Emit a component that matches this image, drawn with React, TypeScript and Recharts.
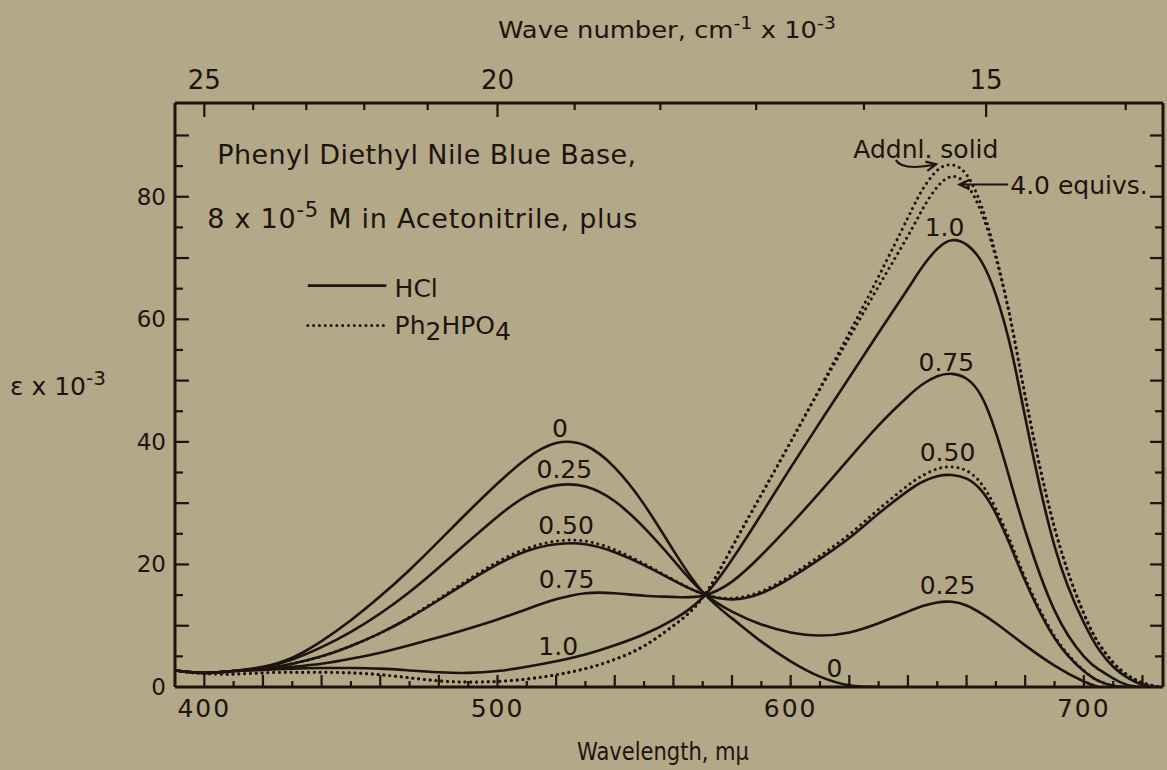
import React from 'react';
import { ComposedChart, Line, XAxis, YAxis, ReferenceDot, ReferenceLine } from 'recharts';

const INK = '#1d140f';
const PAPER = '#b3a887';
const FONT = '"DejaVu Sans", sans-serif';

// wavelength grid (m\u03bc)
const wavelengths = [390,400,410,420,430,440,450,460,470,480,490,500,510,520,530,540,550,560,570,580,590,600,610,620,630,640,645,650,655,660,665,670,675,680,690,700,705,710,715,720,725,727];

// HCl series (equivalents): epsilon x 10^-3
const hcl0 = [2.7,2.3,2.6,3.3,4.8,7.5,10.9,14.8,19.1,23.8,28.6,33.2,37.3,39.8,39.4,35.8,29.8,22.3,15.5,11.2,7.4,4.2,1.7,0.3,0,null,null,null,null,null,null,null,null,null,null,null,null,null,null,null,null,null];
const hcl025 = [2.7,2.3,2.6,3.2,4.5,6.5,9.0,12.0,15.5,19.5,23.7,27.8,31.2,32.9,32.7,30.3,26.0,20.7,15.5,12.3,10.2,8.9,8.4,8.9,10.4,12.3,13.2,13.8,13.9,13.3,12.0,10.4,8.6,6.8,3.5,0.9,0,null,null,null,null,null];
const hcl050 = [2.7,2.3,2.6,3.0,3.8,5.0,6.7,8.8,11.3,14.2,17.2,20.0,22.2,23.3,23.3,22.0,19.9,17.4,15.2,14.3,15.3,17.8,20.9,24.3,28.3,32.0,33.5,34.4,34.6,34.0,32.1,28.3,23.0,17.3,8.0,2.6,1.0,0.2,0,null,null,null];
const hcl075 = [2.7,2.3,2.6,2.9,3.3,3.8,4.6,5.6,6.8,8.1,9.5,11.0,12.7,14.3,15.3,15.3,14.9,14.7,14.9,17.2,21.5,26.5,31.8,37.3,42.7,47.4,49.4,50.7,51.1,50.3,47.5,41.5,33.5,25.5,12.5,5.0,2.9,1.4,0.3,0,null,null];
const hcl100 = [2.7,2.3,2.6,2.8,3.0,3.1,3.1,3.0,2.7,2.4,2.3,2.6,3.3,4.2,5.3,6.8,8.6,11.0,14.6,20.8,28.2,35.8,43.2,50.5,57.8,65.0,68.6,71.5,72.9,72.2,69.5,64.0,55.5,44.0,23.0,10.5,6.2,3.3,1.5,0.4,0,null];

// Ph2HPO4 series
const ph050 = [2.7,2.3,2.6,3.0,3.8,5.0,6.7,8.8,11.4,14.4,17.5,20.4,22.6,23.8,23.8,22.4,20.1,17.5,15.2,14.5,15.6,18.2,21.4,24.9,29.0,32.9,34.5,35.6,35.9,35.3,33.2,29.1,23.7,17.8,8.3,2.7,1.0,0.2,0,null,null,null];
const ph400 = [2.6,2.2,2.1,2.3,2.4,2.4,2.3,2.0,1.5,1.0,0.8,0.9,1.3,2.0,3.0,4.5,6.7,10.0,14.6,22.8,31.4,40.0,48.6,57.0,65.4,73.6,78.0,81.6,83.3,82.0,77.5,70.0,60.0,47.5,26.0,12.0,7.2,4.0,1.9,0.7,0.1,0];
const phAddnl = [2.6,2.2,2.1,2.3,2.4,2.4,2.3,2.0,1.5,1.0,0.8,0.9,1.3,2.0,3.0,4.5,6.7,10.0,14.6,22.8,31.4,40.0,48.8,57.8,67.0,76.6,81.2,84.3,85.2,83.6,78.6,70.5,60.0,47.5,26.0,12.0,7.2,4.0,1.9,0.7,0.1,0];

// axes
const bottomTicks = [400,410,420,430,440,450,460,470,480,490,500,510,520,530,540,550,560,570,580,590,600,610,620,630,640,650,660,670,680,690,700,710,720];
const bottomLabels = [400, 500, 600, 700];
const epsTicks = [0,5,10,15,20,25,30,35,40,45,50,55,60,65,70,75,80,85,90];
const epsLabels = [0, 20, 40, 60, 80];
const waveNumberTicks = [25,24,23,22,21,20,19,18,17,16,15,14];
const waveNumberLabels = [25, 20, 15];

// curve labels
const curveLabelText = ['0','0.25','0.50','0.75','1.0','1.0','0.75','0.50','0.25','0'];
const curveLabelNm = [521.3,522.8,523.4,523.6,520.7,652.5,653.1,653.5,653.5,614.9];
const curveLabelEps = [42.2,35.6,26.5,17.6,6.7,75.0,53.1,38.4,16.7,3.1];

const data = wavelengths.map((nm, i) => ({
  nm,
  hcl0: hcl0[i], hcl025: hcl025[i], hcl050: hcl050[i], hcl075: hcl075[i], hcl100: hcl100[i],
  ph050: ph050[i], ph400: ph400[i], phAddnl: phAddnl[i],
}));

const topTickNm = waveNumberTicks.map((k) => 10000 / k);

const BottomTick = (p: any) => {
  const { x, y, payload } = p;
  const v = Math.round(payload.value);
  const major = v % 20 === 0;
  return (
    <g>
      <line x1={x} y1={y} x2={x} y2={y - (major ? 12 : 6)} stroke={INK} strokeWidth={2.2} />
      {bottomLabels.includes(v) && (
        <text x={x} y={y + 30} textAnchor="middle" fontSize={25} letterSpacing={2} fill={INK} fontFamily={FONT}>{v}</text>
      )}
    </g>
  );
};

const TopTick = (p: any) => {
  const { x, y, payload } = p;
  const k = Math.round(10000 / payload.value);
  const major = waveNumberLabels.includes(k);
  return (
    <g>
      <line x1={x} y1={y} x2={x} y2={y + (major ? 14 : 7)} stroke={INK} strokeWidth={2.2} />
      {major && (
        <text x={x} y={y - 14} textAnchor="middle" fontSize={26} fill={INK} fontFamily={FONT}>{k}</text>
      )}
    </g>
  );
};

const LeftTick = (p: any) => {
  const { x, y, payload } = p;
  const v = Math.round(payload.value);
  const long = v % 10 === 0;
  return (
    <g>
      {v > 0 && <line x1={x} y1={y} x2={x + (long ? 14 : 8)} y2={y} stroke={INK} strokeWidth={2.2} />}
      {epsLabels.includes(v) && (
        <text x={x - 9} y={y + 8} textAnchor="end" fontSize={23} fill={INK} fontFamily={FONT}>{v}</text>
      )}
    </g>
  );
};

const RightTick = (p: any) => {
  const { x, y, payload } = p;
  const v = Math.round(payload.value);
  const long = v % 10 === 0;
  if (v === 0) return <g />;
  return <line x1={x} y1={y} x2={x - (long ? 13 : 8)} y2={y} stroke={INK} strokeWidth={2.2} />;
};

const center = (vb: any) => ({ cx: vb.x + (vb.width || 0) / 2, cy: vb.y + (vb.height || 0) / 2 });

const CurveLabel = (text: string) => (p: any) => {
  const { cx, cy } = center(p.viewBox);
  return (
    <text x={cx} y={cy + 9} textAnchor="middle" fontSize={25} fill={INK} fontFamily={FONT}>{text}</text>
  );
};

const Title1 = (p: any) => {
  const { cx, cy } = center(p.viewBox);
  return (
    <text x={cx} y={cy + 10} fontSize={27} fill={INK} fontFamily={FONT} textLength={419} lengthAdjust="spacing">
      Phenyl Diethyl Nile Blue Base,
    </text>
  );
};

const Title2 = (p: any) => {
  const { cx, cy } = center(p.viewBox);
  return (
    <text x={cx} y={cy + 10} fontSize={27} fill={INK} fontFamily={FONT} textLength={430} lengthAdjust="spacing">
      <tspan>8 x 10</tspan>
      <tspan dy={-11} fontSize={21}>-5</tspan>
      <tspan dy={11}> M in Acetonitrile, plus</tspan>
    </text>
  );
};

const LegendHCl = (p: any) => {
  const { cx, cy } = center(p.viewBox);
  return <text x={cx} y={cy + 9} fontSize={25} fill={INK} fontFamily={FONT}>HCl</text>;
};

const LegendPh = (p: any) => {
  const { cx, cy } = center(p.viewBox);
  return (
    <text x={cx} y={cy + 7} fontSize={25} fill={INK} fontFamily={FONT}>
      <tspan>Ph</tspan>
      <tspan dy={6}>2</tspan>
      <tspan dy={-6}>HPO</tspan>
      <tspan dy={6}>4</tspan>
    </text>
  );
};

const AddnlText = (p: any) => {
  const { cx, cy } = center(p.viewBox);
  return <text x={cx} y={cy + 9} textAnchor="middle" fontSize={25} fill={INK} fontFamily={FONT}>Addnl. solid</text>;
};

const EquivText = (p: any) => {
  const { cx, cy } = center(p.viewBox);
  return <text x={cx} y={cy + 9} fontSize={25} fill={INK} fontFamily={FONT}>4.0 equivs.</text>;
};

const head = (x2: number, y2: number, ang: number) => {
  const h = 11, w = 0.45;
  const ax = x2 - h * Math.cos(ang - w), ay = y2 - h * Math.sin(ang - w);
  const bx = x2 - h * Math.cos(ang + w), by = y2 - h * Math.sin(ang + w);
  return `${ax},${ay} ${x2},${y2} ${bx},${by}`;
};

const StraightArrow = (p: any) => {
  const { x1, y1, x2, y2 } = p;
  const ang = Math.atan2(y2 - y1, x2 - x1);
  return (
    <g>
      <line x1={x1} y1={y1} x2={x2} y2={y2} stroke={INK} strokeWidth={2.2} />
      <polyline points={head(x2, y2, ang)} fill="none" stroke={INK} strokeWidth={2.2} />
    </g>
  );
};

const CurvedArrow = (p: any) => {
  const { x1, y1, x2, y2 } = p;
  const qx = x1 + 6, qy = Math.max(y1, y2) + 7;
  const ang = Math.atan2(y2 - qy, x2 - qx);
  return (
    <g>
      <path d={`M${x1},${y1} Q${qx},${qy} ${x2},${y2}`} fill="none" stroke={INK} strokeWidth={2.2} />
      <polyline points={head(x2, y2, ang)} fill="none" stroke={INK} strokeWidth={2.2} />
    </g>
  );
};

const SolidSeg = (p: any) => <line x1={p.x1} y1={p.y1} x2={p.x2} y2={p.y2} stroke={INK} strokeWidth={2.6} />;
const DotSeg = (p: any) => (
  <line x1={p.x1} y1={p.y1} x2={p.x2} y2={p.y2} stroke={INK} strokeWidth={3} strokeDasharray="0.01 5.8" strokeLinecap="round" />
);

const TopTitle = (p: any) => {
  const vb = p.viewBox;
  return (
    <text x={vb.x + 323} y={vb.y - 25} fontSize={23} fill={INK} fontFamily={FONT} textLength={338} lengthAdjust="spacingAndGlyphs">
      <tspan>Wave number, cm</tspan>
      <tspan dy={-9} fontSize={17}>-1</tspan>
      <tspan dy={9}> x 10</tspan>
      <tspan dy={-9} fontSize={17}>-3</tspan>
    </text>
  );
};

const BottomTitle = (p: any) => {
  const vb = p.viewBox;
  return (
    <text x={vb.x + 402} y={vb.y + 73} fontSize={25} fill={INK} fontFamily={FONT} textLength={172} lengthAdjust="spacingAndGlyphs">
      {'Wavelength, m\u03bc'}
    </text>
  );
};

const LeftTitle = (p: any) => {
  const vb = p.viewBox;
  return (
    <text x={10} y={vb.y + 292} fontSize={25} fill={INK} fontFamily={FONT}>
      <tspan>{'\u03b5'} x 10</tspan>
      <tspan dy={-10} fontSize={20}>-3</tspan>
    </text>
  );
};

const solid = { stroke: INK, strokeWidth: 2.6, dot: false, activeDot: false, isAnimationActive: false, type: 'natural' as const, connectNulls: false };
const dotted = { ...solid, strokeWidth: 3, strokeDasharray: '0.01 5.8', strokeLinecap: 'round' as const };

export default function App() {
  return (
    <div style={{ position: 'fixed', left: 0, top: 0, width: 1167, height: 770, background: PAPER, overflow: 'hidden' }}>
      <ComposedChart width={1167} height={770} data={data} margin={{ top: 63, right: 0, bottom: 43, left: 115 }}>
        <XAxis dataKey="nm" type="number" domain={[390, 727]} allowDataOverflow ticks={bottomTicks} interval={0}
          tick={BottomTick} tickLine={false} tickSize={0} tickMargin={0} height={40}
          axisLine={{ stroke: INK, strokeWidth: 3 }} label={{ content: BottomTitle }} />
        <XAxis xAxisId="top" orientation="top" dataKey="nm" type="number" domain={[390, 727]} allowDataOverflow
          ticks={topTickNm} interval={0} tick={TopTick} tickLine={false} tickSize={0} tickMargin={0} height={40}
          axisLine={{ stroke: INK, strokeWidth: 3 }} label={{ content: TopTitle }} />
        <YAxis type="number" domain={[0, 95.3]} allowDataOverflow ticks={epsTicks} interval={0} tick={LeftTick}
          tickLine={false} tickSize={0} tickMargin={0} width={60} axisLine={{ stroke: INK, strokeWidth: 3 }}
          label={{ content: LeftTitle }} />
        <YAxis yAxisId="right" orientation="right" type="number" domain={[0, 95.3]} allowDataOverflow ticks={epsTicks}
          interval={0} tick={RightTick} tickLine={false} tickSize={0} tickMargin={0} width={4}
          axisLine={{ stroke: INK, strokeWidth: 3 }} />

        <Line dataKey="hcl0" {...solid} />
        <Line dataKey="hcl025" {...solid} />
        <Line dataKey="hcl050" {...solid} />
        <Line dataKey="hcl075" {...solid} />
        <Line dataKey="hcl100" {...solid} />
        <Line dataKey="ph050" {...dotted} />
        <Line dataKey="ph400" {...dotted} />
        <Line dataKey="phAddnl" {...dotted} />

        {curveLabelText.map((t, i) => (
          <ReferenceDot key={'cl' + i} x={curveLabelNm[i]} y={curveLabelEps[i]} r={0} fill="none" stroke="none" label={CurveLabel(t)} />
        ))}
        <ReferenceDot x={404.4} y={87.0} r={0} fill="none" stroke="none" label={Title1} />
        <ReferenceDot x={401.0} y={76.6} r={0} fill="none" stroke="none" label={Title2} />
        <ReferenceDot x={464.9} y={65.1} r={0} fill="none" stroke="none" label={LegendHCl} />
        <ReferenceDot x={464.9} y={58.7} r={0} fill="none" stroke="none" label={LegendPh} />
        <ReferenceDot x={646.1} y={87.85} r={0} fill="none" stroke="none" label={AddnlText} />
        <ReferenceDot x={674.9} y={81.95} r={0} fill="none" stroke="none" label={EquivText} />

        <ReferenceLine segment={[{ x: 435.3, y: 65.5 }, { x: 462.1, y: 65.5 }]} shape={SolidSeg} />
        <ReferenceLine segment={[{ x: 435.3, y: 59.0 }, { x: 462.1, y: 59.0 }]} shape={DotSeg} />
        <ReferenceLine segment={[{ x: 674.2, y: 82.0 }, { x: 657.6, y: 82.0 }]} shape={StraightArrow} />
        <ReferenceLine segment={[{ x: 635.9, y: 86.0 }, { x: 649.6, y: 85.3 }]} shape={CurvedArrow} />
      </ComposedChart>
    </div>
  );
}
